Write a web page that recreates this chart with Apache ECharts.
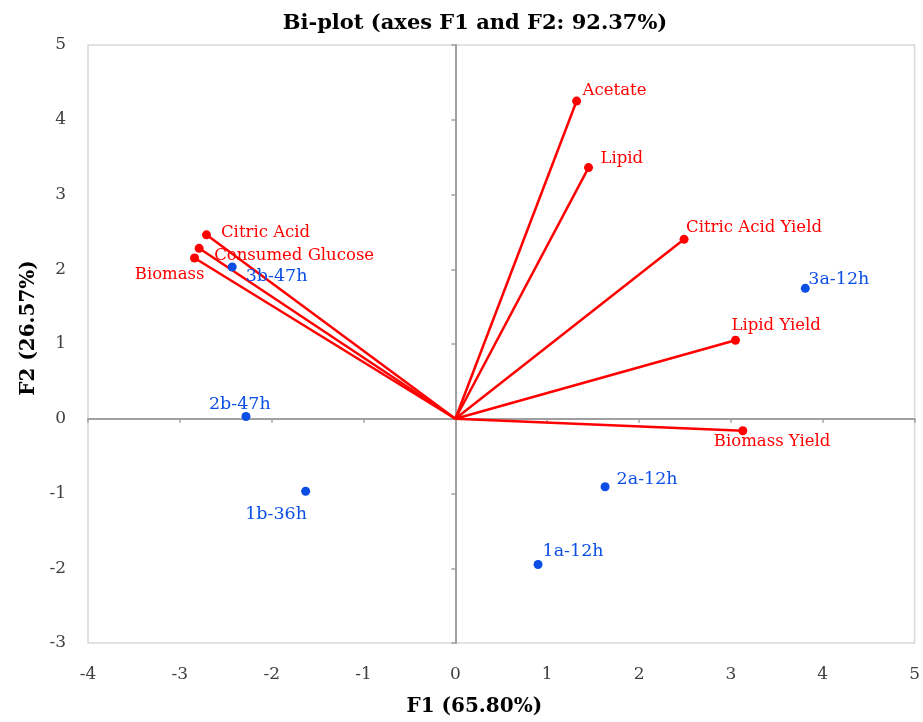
<!DOCTYPE html>
<html>
<head>
<meta charset="utf-8">
<script src="https://cdn.jsdelivr.net/npm/echarts@6/dist/echarts.min.js"></script>
<style>
  html, body { margin: 0; padding: 0; background: #fff; }
  #main { width: 923px; height: 722px; }
</style>
</head>
<body>
<div id="main"></div>
<script>
// variables (loadings), red vectors
var varNames = ['Acetate', 'Lipid', 'Citric Acid Yield', 'Lipid Yield', 'Biomass Yield',
                'Citric Acid', 'Consumed Glucose', 'Biomass'];
var varF1 = [1.32, 1.45, 2.49, 3.05, 3.13, -2.71, -2.79, -2.84];
var varF2 = [4.25, 3.36, 2.40, 1.05, -0.16, 2.46, 2.28, 2.15];

// observations, blue points
var obsNames = ['3b-47h', '3a-12h', '2b-47h', '1b-36h', '2a-12h', '1a-12h'];
var obsF1 = [-2.43, 3.81, -2.28, -1.63, 1.63, 0.90];
var obsF2 = [2.03, 1.745, 0.03, -0.97, -0.91, -1.95];

var xTicks = { min: -4, max: 5, interval: 1 };
var yTicks = { min: -3, max: 5, interval: 1 };

// label placement per point (style, not data)
var labelPlace = {
    'Acetate': ['right', -3.5, -10],
    'Lipid': ['right', 2.5, -9],
    'Citric Acid Yield': ['right', -7.5, -12],
    'Lipid Yield': ['right', -13.5, -15],
    'Biomass Yield': ['right', -38.5, 11],
    'Citric Acid': ['right', 5, -2],
    'Consumed Glucose': ['right', 5.5, 7],
    'Biomass': ['left', 19.5, 17],
    '3b-47h': ['right', 4, 9],
    '3a-12h': ['right', -6.5, -8.5],
    '2b-47h': ['right', -46.5, -12],
    '1b-36h': ['right', -70, 23.5],
    '2a-12h': ['right', 2, -7.5],
    '1a-12h': ['right', -5, -13.5]
};

var RED = '#ff0000';
var BLUE = '#0b4ee6';
var FONT = 'DejaVu Serif';

function pointItem(name, x, y) {
    var p = labelPlace[name];
    return {
        name: name,
        value: [x, y],
        label: { position: p[0], offset: [p[1], p[2]] }
    };
}

var series = [];
for (var i = 0; i < varNames.length; i++) {
    series.push({
        type: 'line',
        xAxisIndex: 0,
        yAxisIndex: 0,
        data: [[0, 0], [varF1[i], varF2[i]]],
        symbol: 'none',
        silent: true,
        z: 3,
        lineStyle: { color: RED, width: 2.5 }
    });
}
series.push({
    type: 'scatter',
    xAxisIndex: 0,
    yAxisIndex: 0,
    symbolSize: 9,
    z: 4,
    itemStyle: { color: RED, opacity: 1 },
    label: {
        show: true,
        distance: 5,
        formatter: '{b}',
        color: RED,
        fontFamily: FONT,
        fontSize: 16.5
    },
    data: varNames.map(function (n, i) { return pointItem(n, varF1[i], varF2[i]); })
});
series.push({
    type: 'scatter',
    xAxisIndex: 0,
    yAxisIndex: 0,
    symbolSize: 9,
    z: 4,
    itemStyle: { color: BLUE, opacity: 1 },
    label: {
        show: true,
        distance: 5,
        formatter: '{b}',
        color: BLUE,
        fontFamily: FONT,
        fontSize: 17.5
    },
    data: obsNames.map(function (n, i) { return pointItem(n, obsF1[i], obsF2[i]); })
});

var tickLabel = { color: '#404040', fontFamily: FONT, fontSize: 17 };

var option = {
    animation: false,
    backgroundColor: '#fff',
    title: {
        text: 'Bi-plot (axes F1 and F2: 92.37%)',
        left: 470,
        top: 8,
        textAlign: 'center',
        textStyle: { fontFamily: FONT, fontWeight: 'bold', fontSize: 21, color: '#000' }
    },
    grid: {
        left: 88, right: 5, top: 45, bottom: 78,
        show: true,
        borderColor: '#d9d9d9',
        borderWidth: 1.5
    },
    xAxis: [{
        type: 'value',
        min: xTicks.min, max: xTicks.max, interval: xTicks.interval,
        position: 'bottom',
        axisLine: { show: false, onZero: false },
        axisTick: { show: false },
        splitLine: { show: false },
        axisLabel: Object.assign({ margin: 23 }, tickLabel),
        name: 'F1 (65.80%)',
        nameLocation: 'middle',
        nameGap: 54,
        nameTextStyle: { fontFamily: FONT, fontWeight: 'bold', fontSize: 20, color: '#000', padding: [0, 54, 0, 0] }
    }, {
        type: 'value',
        min: xTicks.min, max: xTicks.max, interval: xTicks.interval,
        position: 'bottom',
        axisLine: { show: true, onZero: true, lineStyle: { color: '#a0a0a0', width: 2 } },
        axisTick: { show: true, length: 4, lineStyle: { color: '#a0a0a0', width: 1.5 } },
        splitLine: { show: false },
        axisLabel: { show: false }
    }],
    yAxis: [{
        type: 'value',
        min: yTicks.min, max: yTicks.max, interval: yTicks.interval,
        position: 'left',
        axisLine: { show: false, onZero: false },
        axisTick: { show: false },
        splitLine: { show: false },
        axisLabel: Object.assign({ margin: 22 }, tickLabel),
        name: 'F2 (26.57%)',
        nameLocation: 'middle',
        nameGap: 44,
        nameTextStyle: { fontFamily: FONT, fontWeight: 'bold', fontSize: 20, color: '#000', padding: [0, 0, 0, 32] }
    }, {
        type: 'value',
        min: yTicks.min, max: yTicks.max, interval: yTicks.interval,
        position: 'left',
        axisLine: { show: true, onZero: true, lineStyle: { color: '#a0a0a0', width: 2 } },
        axisTick: { show: true, length: 4, lineStyle: { color: '#a0a0a0', width: 1.5 } },
        splitLine: { show: false },
        axisLabel: { show: false }
    }],
    series: series
};

var myChart = echarts.init(document.getElementById('main'));
myChart.setOption(option);
</script>
</body>
</html>
